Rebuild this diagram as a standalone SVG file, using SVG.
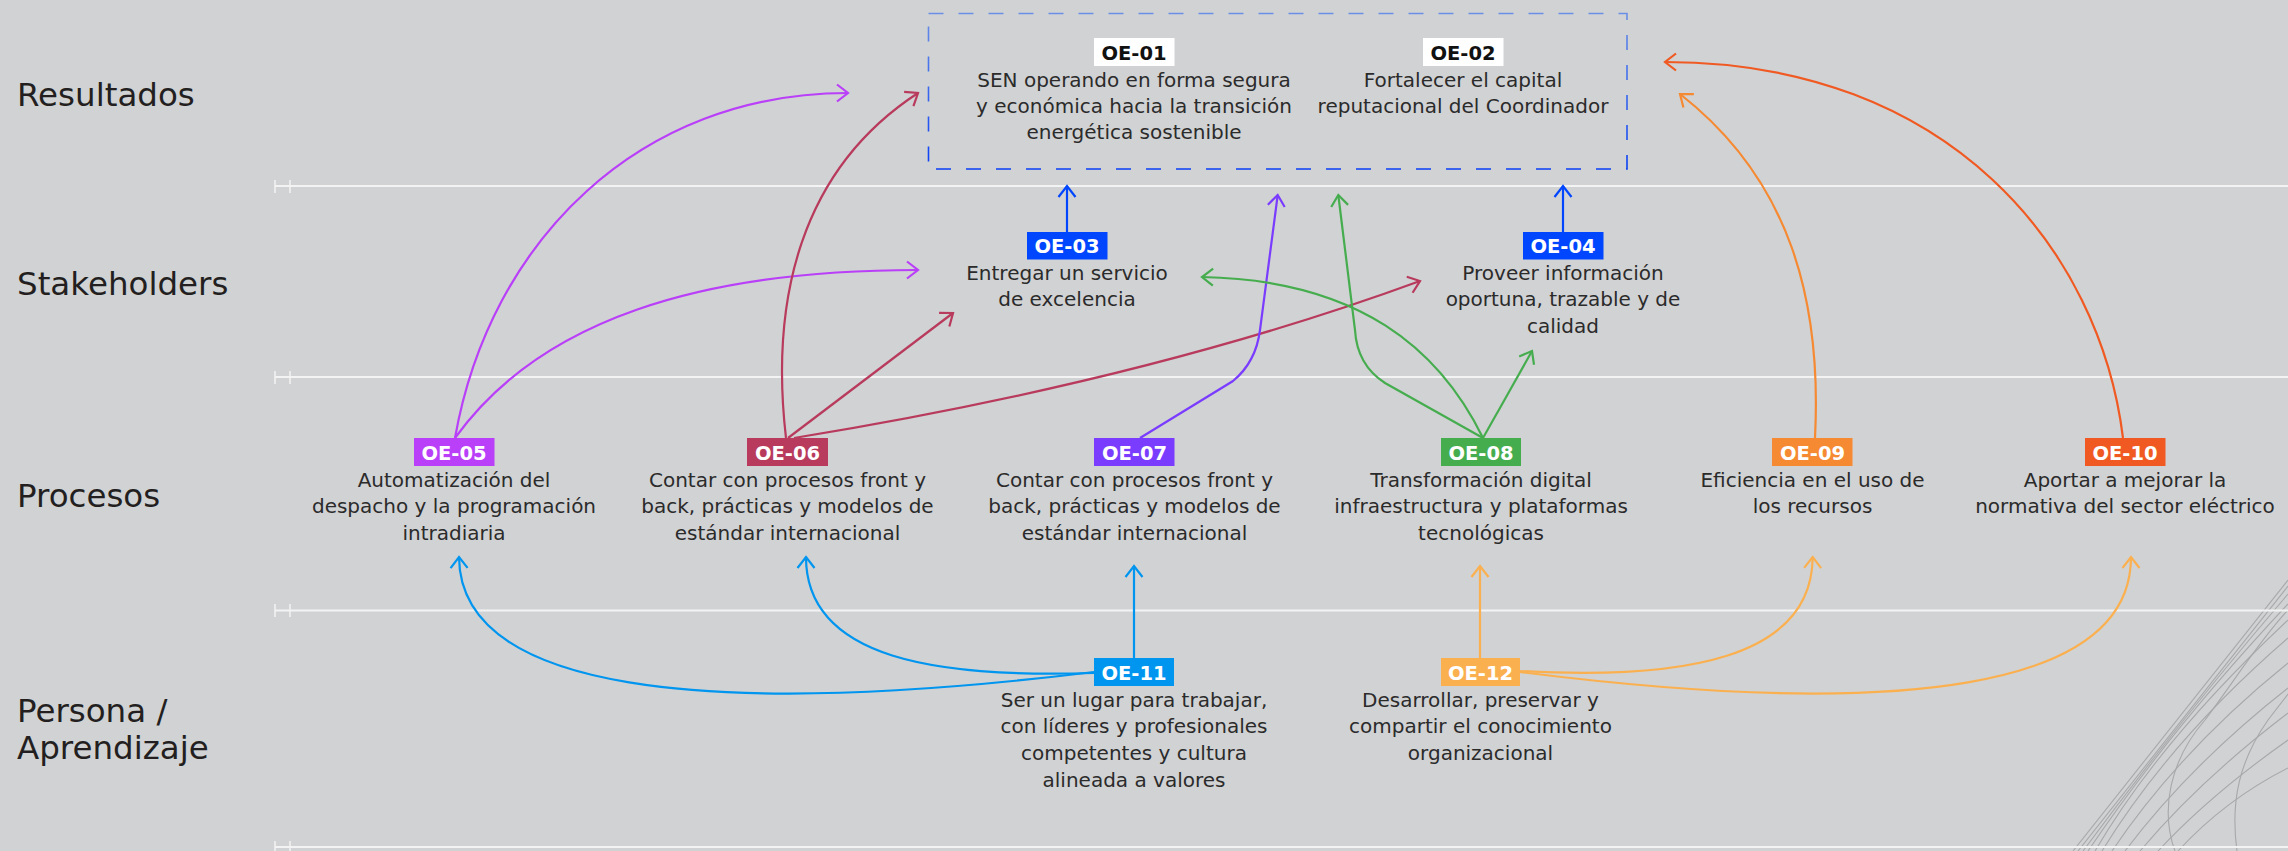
<svg xmlns="http://www.w3.org/2000/svg" width="2288" height="851" viewBox="0 0 2288 851">
<style>
.cat{font-family:"DejaVu Sans","Liberation Sans",sans-serif;font-size:32.5px;fill:#231f20}
.desc{font-family:"DejaVu Sans","Liberation Sans",sans-serif;font-size:20px;fill:#2b2b2b;text-anchor:middle}
.bt{font-family:"DejaVu Sans","Liberation Sans",sans-serif;font-size:19.5px;font-weight:bold;fill:#ffffff;text-anchor:middle}
.bt.dark{fill:#111111}
.rule{stroke:#f3f3f3;stroke-width:2;fill:none}
.tick{stroke:#f3f3f3;stroke-width:1.5;fill:none}
.c{fill:none;stroke-width:2.2}
.deco{fill:none;stroke:#a7a8aa;stroke-width:1.1}
</style>
<defs>
<linearGradient id="dashg" x1="0" y1="0" x2="0" y2="1">
<stop offset="0" stop-color="#6a8fe6"/>
<stop offset="1" stop-color="#0a3ff5"/>
</linearGradient>
<marker id="m-blue" markerUnits="userSpaceOnUse" viewBox="-14 -11 17 22" refX="0" refY="0" markerWidth="17" markerHeight="22" orient="auto"><path d="M-11,-8.5 L0,0 L-11,8.5" fill="none" stroke="#0046ff" stroke-width="2.2"/></marker>
<marker id="m-p5" markerUnits="userSpaceOnUse" viewBox="-14 -11 17 22" refX="0" refY="0" markerWidth="17" markerHeight="22" orient="auto"><path d="M-11,-8.5 L0,0 L-11,8.5" fill="none" stroke="#b93ff8" stroke-width="2.2"/></marker>
<marker id="m-r6" markerUnits="userSpaceOnUse" viewBox="-14 -11 17 22" refX="0" refY="0" markerWidth="17" markerHeight="22" orient="auto"><path d="M-11,-8.5 L0,0 L-11,8.5" fill="none" stroke="#b83a5c" stroke-width="2.2"/></marker>
<marker id="m-v7" markerUnits="userSpaceOnUse" viewBox="-14 -11 17 22" refX="0" refY="0" markerWidth="17" markerHeight="22" orient="auto"><path d="M-11,-8.5 L0,0 L-11,8.5" fill="none" stroke="#7a3cff" stroke-width="2.2"/></marker>
<marker id="m-g8" markerUnits="userSpaceOnUse" viewBox="-14 -11 17 22" refX="0" refY="0" markerWidth="17" markerHeight="22" orient="auto"><path d="M-11,-8.5 L0,0 L-11,8.5" fill="none" stroke="#46ad4f" stroke-width="2.2"/></marker>
<marker id="m-o9" markerUnits="userSpaceOnUse" viewBox="-14 -11 17 22" refX="0" refY="0" markerWidth="17" markerHeight="22" orient="auto"><path d="M-11,-8.5 L0,0 L-11,8.5" fill="none" stroke="#f58a33" stroke-width="2.2"/></marker>
<marker id="m-o10" markerUnits="userSpaceOnUse" viewBox="-14 -11 17 22" refX="0" refY="0" markerWidth="17" markerHeight="22" orient="auto"><path d="M-11,-8.5 L0,0 L-11,8.5" fill="none" stroke="#f05a22" stroke-width="2.2"/></marker>
<marker id="m-b11" markerUnits="userSpaceOnUse" viewBox="-14 -11 17 22" refX="0" refY="0" markerWidth="17" markerHeight="22" orient="auto"><path d="M-11,-8.5 L0,0 L-11,8.5" fill="none" stroke="#0095ef" stroke-width="2.2"/></marker>
<marker id="m-y12" markerUnits="userSpaceOnUse" viewBox="-14 -11 17 22" refX="0" refY="0" markerWidth="17" markerHeight="22" orient="auto"><path d="M-11,-8.5 L0,0 L-11,8.5" fill="none" stroke="#fbb050" stroke-width="2.2"/></marker>
</defs>

<rect x="0" y="0" width="2288" height="851" fill="#d1d2d4"/>

<g id="decoration">
<path class="deco" d="M2073,851 L2288,580"/>
<path class="deco" d="M2078,851 L2288,586"/>
<path class="deco" d="M2083,851 Q2180,720 2288,594"/>
<path class="deco" d="M2088,851 Q2170,730 2288,604"/>
<path class="deco" d="M2095,851 Q2160,740 2288,620"/>
<path class="deco" d="M2102,851 Q2170,740 2288,638"/>
<path class="deco" d="M2112,851 Q2180,750 2288,663"/>
<path class="deco" d="M2125,851 Q2190,765 2288,688"/>
<path class="deco" d="M2140,851 Q2200,780 2288,713"/>
<path class="deco" d="M2158,851 Q2210,795 2288,740"/>
<path class="deco" d="M2178,851 Q2225,800 2288,768"/>
<path class="deco" d="M2175,851 C2160,810 2170,760 2205,720 C2235,680 2260,640 2288,610"/>
<path class="deco" d="M2237,851 C2230,800 2240,760 2268,720 L2288,694"/>
</g>

<g id="lanes">
<line class="rule" x1="275" y1="186" x2="2288" y2="186"/>
<line class="rule" x1="275" y1="377" x2="2288" y2="377"/>
<line class="rule" x1="275" y1="610.5" x2="2288" y2="610.5"/>
<line class="rule" x1="275" y1="847" x2="2288" y2="847"/>
<path class="tick" d="M275,180 V193 M290,180 V193 M275,371 V384 M290,371 V384 M275,604 V617 M290,604 V617 M275,841 V851 M290,841 V851"/>
<text class="cat" x="17" y="106">Resultados</text>
<text class="cat" x="17" y="295">Stakeholders</text>
<text class="cat" x="17" y="507">Procesos</text>
<text class="cat" x="17" y="722">Persona /</text>
<text class="cat" x="17" y="759">Aprendizaje</text>
</g>

<g id="results-frame">
<rect x="928.5" y="13.5" width="698.5" height="155.5" fill="none" stroke="url(#dashg)" stroke-width="1.6" stroke-dasharray="15 15"/>
</g>

<g id="connectors">
<path class="c" stroke="#b93ff8" d="M455,438 C490,240 640,93 848,93" marker-end="url(#m-p5)"/>
<path class="c" stroke="#b93ff8" d="M455,438 C540,320 700,270 918,270" marker-end="url(#m-p5)"/>
<path class="c" stroke="#b83a5c" d="M786,438 C770,300 800,170 918,93" marker-end="url(#m-r6)"/>
<path class="c" stroke="#b83a5c" d="M788,438 L953,313" marker-end="url(#m-r6)"/>
<path class="c" stroke="#b83a5c" d="M794,438 Q1150,380 1420,281" marker-end="url(#m-r6)"/>
<path class="c" stroke="#7a3cff" d="M1140,438 L1233,381 Q1256,362 1260,330 L1277.7,195" marker-end="url(#m-v7)"/>
<path class="c" stroke="#46ad4f" d="M1483,438 L1385,383 Q1357,365 1355,330 L1338.3,195" marker-end="url(#m-g8)"/>
<path class="c" stroke="#46ad4f" d="M1483,438 C1440,350 1360,280 1202,277" marker-end="url(#m-g8)"/>
<path class="c" stroke="#46ad4f" d="M1483,438 L1532,351" marker-end="url(#m-g8)"/>
<path class="c" stroke="#f58a33" d="M1815,438 C1822,300 1790,180 1680,94" marker-end="url(#m-o9)"/>
<path class="c" stroke="#f05a22" d="M2123,438 C2100,250 1950,62 1665,62" marker-end="url(#m-o10)"/>
<path class="c" stroke="#0046ff" d="M1067,232 L1067,186" marker-end="url(#m-blue)"/>
<path class="c" stroke="#0046ff" d="M1563,232 L1563,186" marker-end="url(#m-blue)"/>
<path class="c" stroke="#0095ef" d="M1094,672 C700,720 460,690 459,557" marker-end="url(#m-b11)"/>
<path class="c" stroke="#0095ef" d="M1094,673 C940,678 806,660 806,557" marker-end="url(#m-b11)"/>
<path class="c" stroke="#0095ef" d="M1134,658 L1134,566" marker-end="url(#m-b11)"/>
<path class="c" stroke="#fbb050" d="M1480,658 L1480,566" marker-end="url(#m-y12)"/>
<path class="c" stroke="#fbb050" d="M1520,671 C1680,680 1812,660 1812.7,557" marker-end="url(#m-y12)"/>
<path class="c" stroke="#fbb050" d="M1520,672 C1900,720 2131,690 2131,557" marker-end="url(#m-y12)"/>
</g>

<g id="OE-01">
<rect x="1094" y="38" width="80.5" height="28" fill="#ffffff"/>
<text class="bt dark" x="1134" y="59.5">OE-01</text>
<text class="desc" x="1134" y="87">SEN operando en forma segura</text>
<text class="desc" x="1134" y="113">y económica hacia la transición</text>
<text class="desc" x="1134" y="139">energética sostenible</text>
</g>
<g id="OE-02">
<rect x="1423" y="38" width="80.5" height="28" fill="#ffffff"/>
<text class="bt dark" x="1463" y="59.5">OE-02</text>
<text class="desc" x="1463" y="87">Fortalecer el capital</text>
<text class="desc" x="1463" y="113">reputacional del Coordinador</text>
</g>
<g id="OE-03">
<rect x="1027" y="232" width="80.5" height="27.5" fill="#0046ff"/>
<text class="bt" x="1067" y="253">OE-03</text>
<text class="desc" x="1067" y="280">Entregar un servicio</text>
<text class="desc" x="1067" y="306">de excelencia</text>
</g>
<g id="OE-04">
<rect x="1523" y="232" width="80.5" height="27.5" fill="#0046ff"/>
<text class="bt" x="1563" y="253">OE-04</text>
<text class="desc" x="1563" y="280">Proveer información</text>
<text class="desc" x="1563" y="306">oportuna, trazable y de</text>
<text class="desc" x="1563" y="333">calidad</text>
</g>
<g id="OE-05">
<rect x="414" y="438" width="80.5" height="28" fill="#b93ff8"/>
<text class="bt" x="454" y="459.5">OE-05</text>
<text class="desc" x="454" y="487">Automatización del</text>
<text class="desc" x="454" y="513">despacho y la programación</text>
<text class="desc" x="454" y="540">intradiaria</text>
</g>
<g id="OE-06">
<rect x="747" y="438" width="81" height="28" fill="#b83a5c"/>
<text class="bt" x="787.5" y="459.5">OE-06</text>
<text class="desc" x="787.5" y="487">Contar con procesos front y</text>
<text class="desc" x="787.5" y="513">back, prácticas y modelos de</text>
<text class="desc" x="787.5" y="540">estándar internacional</text>
</g>
<g id="OE-07">
<rect x="1094" y="438" width="80.5" height="28" fill="#7a3cff"/>
<text class="bt" x="1134.5" y="459.5">OE-07</text>
<text class="desc" x="1134.5" y="487">Contar con procesos front y</text>
<text class="desc" x="1134.5" y="513">back, prácticas y modelos de</text>
<text class="desc" x="1134.5" y="540">estándar internacional</text>
</g>
<g id="OE-08">
<rect x="1441" y="438" width="80" height="28" fill="#46ad4f"/>
<text class="bt" x="1481" y="459.5">OE-08</text>
<text class="desc" x="1481" y="487">Transformación digital</text>
<text class="desc" x="1481" y="513">infraestructura y plataformas</text>
<text class="desc" x="1481" y="540">tecnológicas</text>
</g>
<g id="OE-09">
<rect x="1772" y="438" width="80.5" height="28" fill="#f58a33"/>
<text class="bt" x="1812.5" y="459.5">OE-09</text>
<text class="desc" x="1812.5" y="487">Eficiencia en el uso de</text>
<text class="desc" x="1812.5" y="513">los recursos</text>
</g>
<g id="OE-10">
<rect x="2085" y="438" width="80.5" height="28" fill="#f05a22"/>
<text class="bt" x="2125" y="459.5">OE-10</text>
<text class="desc" x="2125" y="487">Aportar a mejorar la</text>
<text class="desc" x="2125" y="513">normativa del sector eléctrico</text>
</g>
<g id="OE-11">
<rect x="1094" y="658" width="80" height="28" fill="#0095ef"/>
<text class="bt" x="1134" y="679.5">OE-11</text>
<text class="desc" x="1134" y="707">Ser un lugar para trabajar,</text>
<text class="desc" x="1134" y="733">con líderes y profesionales</text>
<text class="desc" x="1134" y="760">competentes y cultura</text>
<text class="desc" x="1134" y="787">alineada a valores</text>
</g>
<g id="OE-12">
<rect x="1441" y="658" width="79" height="28" fill="#fbb050"/>
<text class="bt" x="1480.5" y="679.5">OE-12</text>
<text class="desc" x="1480.5" y="707">Desarrollar, preservar y</text>
<text class="desc" x="1480.5" y="733">compartir el conocimiento</text>
<text class="desc" x="1480.5" y="760">organizacional</text>
</g>
</svg>
